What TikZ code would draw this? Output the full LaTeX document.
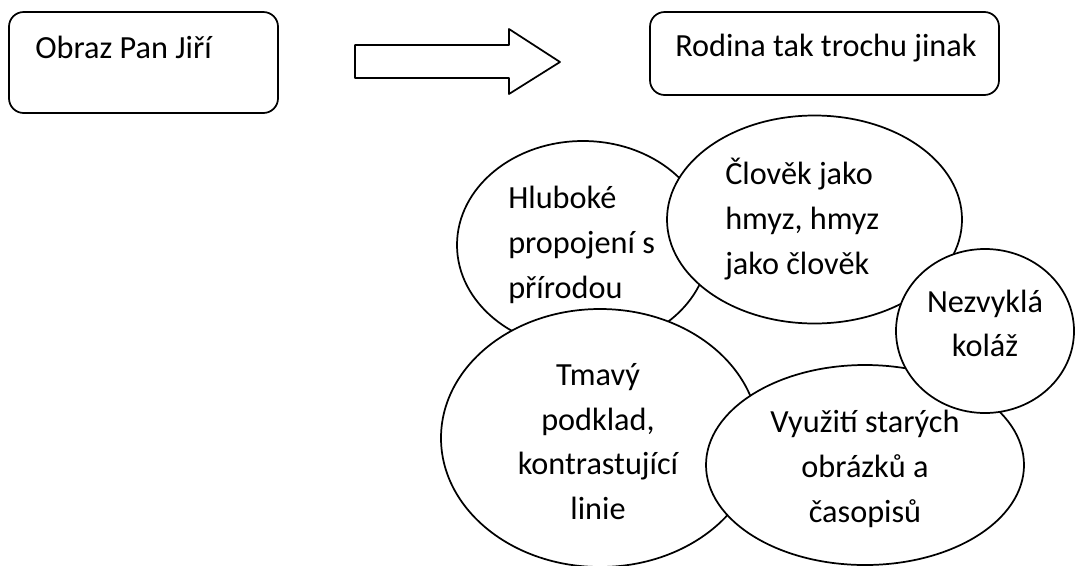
\documentclass[tikz,border=0pt]{standalone}
\usepackage{fontspec}
\setmainfont{Carlito}
\usetikzlibrary{shapes.geometric,positioning}
\tikzset{
  outline/.style={draw, line width=1.3pt, line join=round},
  roundbox/.style 2 args={outline, rounded corners=11pt, inner sep=0pt,
    minimum width=0.75*#1pt, minimum height=0.75*#2pt},
  bubble/.style 2 args={outline, ellipse, fill=white, inner sep=0pt,
    minimum width=1.5*#1pt, minimum height=1.5*#2pt},
  bubbletext/.style={font=\fontsize{24.2}{33.5}\selectfont, inner sep=0pt},
}

\begin{document}
\begin{tikzpicture}[x=0.75pt, y=-0.75pt]
  \useasboundingbox (0,0) rectangle (1085,565);

  % Starting box
  \node[roundbox={269}{101}] (source) at (143.5,62.5) {};
  \node[bubbletext, anchor=base west] (sourcetext) at (35,58) {Obraz Pan Jiří};

  % Block arrow
  \draw[outline] (355,45) -- (509,45) -- (509,29) -- (560,62)
    -- (509,94) -- (509,78) -- (355,78) -- cycle;

  % Target box
  \node[roundbox={349}{83}] (target) at (824.5,53.5) {};
  \node[bubbletext, anchor=base west] (targettext) at (675,56) {Rodina tak trochu jinak};

  % Bubbles, back to front
  \node[bubble={126}{104}] (nature) at (583,245) {};
  \node[bubble={147.5}{104}] (insect) at (814.5,219.5) {};
  \node[bubble={159}{129}] (dark) at (600,438) {};
  \node[bubble={159}{100}] (oldpics) at (865,465) {};
  \node[bubble={89}{82}] (collage) at (985,331) {};

  % Bubble texts
  \node[bubbletext, anchor=west, align=left] (naturetext) at (508,245)
    {Hluboké\\propojení s\\přírodou};
  \node[bubbletext, anchor=west, align=left] (insecttext) at (725,219)
    {Člověk jako\\hmyz, hmyz\\jako člověk};
  \node[bubbletext, align=center] (collagetext) at (985,323.5)
    {Nezvyklá\\koláž};
  \node[bubbletext, align=center] (darktext) at (598,441.5)
    {Tmavý\\podklad,\\kontrastující\\linie};
  \node[bubbletext, align=center] (oldpicstext) at (865,469)
    {Využití starých\\obrázků a\\časopisů};
\end{tikzpicture}
\end{document}
